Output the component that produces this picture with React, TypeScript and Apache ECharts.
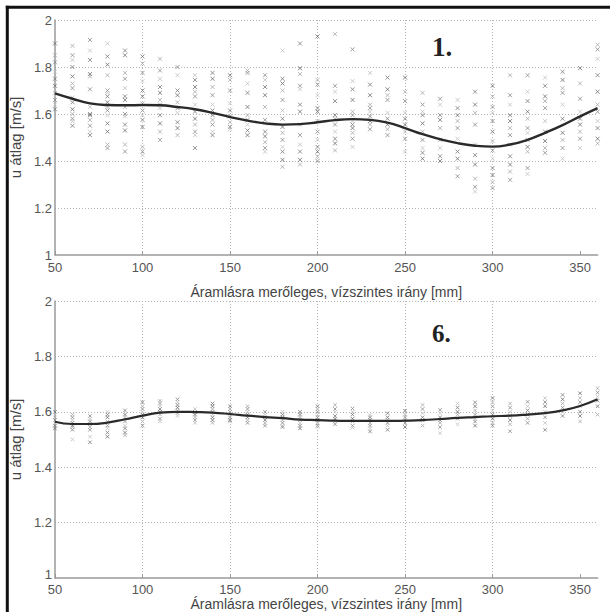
import React, { useEffect, useRef } from "react";
import * as echarts from "echarts";

const positions = [50, 60, 70, 80, 90, 100, 110, 120, 130, 140, 150, 160, 170, 180, 190, 200, 210, 220, 230, 240, 250, 260, 270, 280, 290, 300, 310, 320, 330, 340, 350, 360];
const xTicks = [50, 100, 150, 200, 250, 300, 350];
const xName = "Áramlásra merőleges, vízszintes irány [mm]";
const yName = "u átlag [m/s]";
const title1 = "1.";
const title2 = "6.";

const mean1 = [1.688, 1.665, 1.645, 1.638, 1.637, 1.638, 1.637, 1.630, 1.620, 1.605, 1.587, 1.572, 1.560, 1.555, 1.557, 1.565, 1.574, 1.578, 1.575, 1.563, 1.540, 1.514, 1.493, 1.476, 1.465, 1.461, 1.470, 1.490, 1.520, 1.553, 1.590, 1.625];
const mean6 = [1.564, 1.556, 1.556, 1.561, 1.573, 1.586, 1.597, 1.600, 1.599, 1.597, 1.592, 1.586, 1.581, 1.577, 1.572, 1.570, 1.568, 1.567, 1.567, 1.567, 1.568, 1.570, 1.574, 1.578, 1.581, 1.584, 1.586, 1.590, 1.595, 1.605, 1.621, 1.645];

const samples1: number[][] = [
  [1.90, 1.85, 1.82, 1.78, 1.75, 1.72, 1.69, 1.66, 1.64, 1.62],
  [1.89, 1.85, 1.83, 1.80, 1.76, 1.73, 1.71, 1.67, 1.65, 1.62, 1.60, 1.58, 1.57, 1.55],
  [1.915, 1.87, 1.83, 1.77, 1.76, 1.705, 1.63, 1.60, 1.595, 1.575, 1.55, 1.525, 1.51],
  [1.90, 1.845, 1.81, 1.765, 1.70, 1.69, 1.675, 1.65, 1.63, 1.615, 1.595, 1.56, 1.525, 1.47, 1.455],
  [1.87, 1.85, 1.775, 1.75, 1.71, 1.675, 1.66, 1.63, 1.60, 1.59, 1.555, 1.53, 1.47, 1.44],
  [1.845, 1.815, 1.775, 1.74, 1.70, 1.675, 1.645, 1.615, 1.595, 1.575, 1.545, 1.46, 1.44, 1.425],
  [1.835, 1.785, 1.75, 1.715, 1.69, 1.66, 1.64, 1.625, 1.595, 1.56, 1.525, 1.49],
  [1.80, 1.765, 1.70, 1.68, 1.65, 1.625, 1.605, 1.565, 1.54, 1.51],
  [1.765, 1.745, 1.715, 1.695, 1.675, 1.64, 1.61, 1.58, 1.555, 1.525, 1.51, 1.455],
  [1.775, 1.75, 1.715, 1.68, 1.64, 1.615, 1.595, 1.575, 1.555, 1.525, 1.51],
  [1.765, 1.745, 1.70, 1.645, 1.615, 1.59, 1.565, 1.545, 1.535],
  [1.785, 1.775, 1.73, 1.69, 1.63, 1.595, 1.575, 1.555, 1.53, 1.51],
  [1.765, 1.745, 1.715, 1.68, 1.63, 1.575, 1.56, 1.525, 1.505, 1.48, 1.455, 1.44],
  [1.87, 1.75, 1.73, 1.70, 1.66, 1.615, 1.58, 1.545, 1.52, 1.49, 1.46, 1.44, 1.405, 1.375],
  [1.90, 1.795, 1.77, 1.72, 1.705, 1.64, 1.61, 1.555, 1.51, 1.47, 1.44, 1.405, 1.385],
  [1.93, 1.745, 1.725, 1.68, 1.625, 1.61, 1.57, 1.525, 1.49, 1.46, 1.44, 1.42, 1.40],
  [1.94, 1.72, 1.695, 1.655, 1.595, 1.58, 1.555, 1.525, 1.495, 1.475, 1.445],
  [1.875, 1.74, 1.705, 1.66, 1.61, 1.595, 1.57, 1.555, 1.54, 1.52, 1.495, 1.46],
  [1.775, 1.725, 1.68, 1.64, 1.625, 1.61, 1.59, 1.57, 1.555, 1.535],
  [1.755, 1.705, 1.68, 1.66, 1.605, 1.58, 1.555, 1.535, 1.51],
  [1.755, 1.695, 1.655, 1.605, 1.58, 1.555, 1.525, 1.495, 1.44],
  [1.69, 1.64, 1.61, 1.595, 1.56, 1.525, 1.49, 1.455, 1.435, 1.41],
  [1.665, 1.64, 1.595, 1.575, 1.54, 1.49, 1.455, 1.42, 1.40],
  [1.66, 1.625, 1.595, 1.57, 1.54, 1.495, 1.44, 1.41, 1.37, 1.335],
  [1.695, 1.64, 1.605, 1.555, 1.47, 1.425, 1.385, 1.325, 1.29, 1.27],
  [1.72, 1.675, 1.63, 1.605, 1.57, 1.525, 1.485, 1.445, 1.41, 1.37, 1.34, 1.31, 1.285],
  [1.765, 1.68, 1.64, 1.595, 1.57, 1.54, 1.51, 1.47, 1.42, 1.385, 1.355, 1.32],
  [1.765, 1.695, 1.655, 1.61, 1.58, 1.54, 1.52, 1.49, 1.46, 1.44, 1.37, 1.345],
  [1.755, 1.72, 1.675, 1.655, 1.625, 1.57, 1.525, 1.485, 1.455, 1.435],
  [1.78, 1.745, 1.71, 1.69, 1.64, 1.58, 1.52, 1.49, 1.455, 1.41],
  [1.795, 1.73, 1.665, 1.61, 1.58, 1.555, 1.525, 1.495, 1.455],
  [1.895, 1.875, 1.835, 1.765, 1.695, 1.64, 1.61, 1.57, 1.54, 1.495, 1.475],
];

const samples6: number[][] = [
  [1.60, 1.58, 1.57, 1.56, 1.55, 1.54],
  [1.59, 1.58, 1.57, 1.56, 1.55, 1.545, 1.535, 1.50],
  [1.585, 1.575, 1.565, 1.555, 1.545, 1.535, 1.51, 1.49],
  [1.60, 1.59, 1.58, 1.565, 1.55, 1.54, 1.525, 1.51],
  [1.605, 1.59, 1.58, 1.565, 1.55, 1.54, 1.525, 1.515],
  [1.635, 1.62, 1.61, 1.60, 1.59, 1.58, 1.565, 1.55],
  [1.64, 1.63, 1.62, 1.61, 1.60, 1.59, 1.575, 1.565],
  [1.645, 1.635, 1.625, 1.615, 1.605, 1.595, 1.585],
  [1.61, 1.60, 1.59, 1.58, 1.57, 1.56],
  [1.63, 1.62, 1.61, 1.60, 1.59, 1.58, 1.57, 1.56],
  [1.62, 1.61, 1.60, 1.59, 1.58, 1.57, 1.565],
  [1.62, 1.61, 1.60, 1.59, 1.58, 1.57, 1.56],
  [1.60, 1.59, 1.58, 1.57, 1.56, 1.55],
  [1.60, 1.59, 1.58, 1.57, 1.56, 1.55, 1.545],
  [1.60, 1.59, 1.58, 1.57, 1.56, 1.55, 1.54],
  [1.62, 1.61, 1.60, 1.59, 1.58, 1.57, 1.56, 1.55, 1.545],
  [1.625, 1.61, 1.60, 1.585, 1.575, 1.565, 1.555],
  [1.612, 1.60, 1.59, 1.575, 1.565, 1.55, 1.543],
  [1.589, 1.58, 1.57, 1.56, 1.55, 1.54, 1.529],
  [1.595, 1.58, 1.57, 1.56, 1.55, 1.535],
  [1.604, 1.59, 1.58, 1.57, 1.56, 1.545],
  [1.625, 1.61, 1.595, 1.58, 1.57, 1.55],
  [1.607, 1.595, 1.58, 1.57, 1.56, 1.545, 1.523],
  [1.63, 1.615, 1.60, 1.59, 1.575, 1.555],
  [1.634, 1.62, 1.605, 1.59, 1.575, 1.565, 1.55],
  [1.65, 1.635, 1.62, 1.605, 1.59, 1.575, 1.56, 1.55],
  [1.63, 1.615, 1.60, 1.585, 1.57, 1.555, 1.53],
  [1.636, 1.62, 1.605, 1.59, 1.575, 1.56],
  [1.65, 1.635, 1.62, 1.60, 1.58, 1.56, 1.535],
  [1.661, 1.645, 1.63, 1.615, 1.60, 1.585],
  [1.667, 1.65, 1.635, 1.62, 1.60, 1.585, 1.565],
  [1.685, 1.67, 1.655, 1.64, 1.62, 1.59],
];

const GREYS = ["#6e6e6e", "#a8a8a8", "#8a8a8a", "#c0c0c0", "#7a7a7a"];
const FONT = "'Liberation Sans', Arial, sans-serif";
const LABEL_COLOR = "#555";
const AXIS_COLOR = "#9a9a9a";
const GRID_COLOR = "#b4b4b4";
const CROSS = "path://M0,0L10,10M10,0L0,10";

function scatterData(cols: number[][]) {
  const out: any[] = [];
  cols.forEach((vals, ci) => {
    vals.forEach((v, vi) => {
      out.push({
        value: [positions[ci], v],
        itemStyle: { borderColor: GREYS[(ci + vi) % GREYS.length] },
      });
    });
  });
  return out;
}

function makeX(gridIndex: number, labelMargin: number, nameGap: number) {
  return {
    type: "value",
    gridIndex,
    min: 50,
    max: 360,
    interval: 50,
    name: xName,
    nameLocation: "middle",
    nameGap,
    nameTextStyle: { color: "#444", fontSize: 14, fontFamily: FONT, lineHeight: 14 },
    axisLine: { show: true, onZero: false, lineStyle: { color: AXIS_COLOR, width: 1.5 } },
    axisTick: { show: true, inside: true, length: 4, customValues: xTicks, lineStyle: { color: AXIS_COLOR } },
    axisLabel: { color: LABEL_COLOR, fontSize: 13, fontFamily: FONT, margin: labelMargin, lineHeight: 11, customValues: xTicks },
    splitLine: { show: true, showMaxLine: false, showMinLine: false, lineStyle: { color: GRID_COLOR, type: [1, 2], width: 1 } },
  };
}

function makeY(gridIndex: number, nameGap: number, raiseMin: boolean) {
  return {
    type: "value",
    gridIndex,
    min: 1,
    max: 2,
    interval: 0.2,
    name: yName,
    nameLocation: "middle",
    nameGap,
    nameTextStyle: { color: "#444", fontSize: 15, fontFamily: FONT },
    axisLine: { show: true, onZero: false, lineStyle: { color: AXIS_COLOR, width: 1.5 } },
    axisTick: { show: false },
    axisLabel: {
      color: LABEL_COLOR,
      fontSize: 13,
      fontFamily: FONT,
      margin: 3,
      formatter: (v: number) => (raiseMin && v === 1 ? "{lo|1}" : String(Math.round(v * 10) / 10)),
      rich: { lo: { color: LABEL_COLOR, fontSize: 13, fontFamily: FONT, padding: [0, 0, 8, 0] } },
    },
    splitLine: { show: true, showMinLine: false, lineStyle: { color: GRID_COLOR, type: [1, 2], width: 1 } },
  };
}

export default function App() {
  const ref = useRef<HTMLDivElement>(null);
  useEffect(() => {
    if (!ref.current) return;
    const chart = echarts.init(ref.current, undefined, { renderer: "svg" });
    chart.setOption({
      animation: false,
      backgroundColor: "#ffffff",
      grid: [
        { left: 52, right: 12.4, top: 20, height: 235 },
        { left: 52, right: 12.4, top: 301, height: 277 },
      ],
      xAxis: [makeX(0, 7, 30), makeX(1, 6, 15)],
      yAxis: [makeY(0, 27, false), makeY(1, 25, true)],
      graphic: [
        { type: "line", shape: { x1: 7.3, y1: 5.8, x2: 7.3, y2: 612 }, style: { stroke: "#111", lineWidth: 3 } },
        { type: "line", shape: { x1: 5.8, y1: 7.3, x2: 610, y2: 7.3 }, style: { stroke: "#111", lineWidth: 3 } },
        { type: "text", left: 432, top: 33, style: { text: title1, font: "bold 27px 'Liberation Serif', 'Times New Roman', serif", fill: "#222" } },
        { type: "text", left: 432, top: 321, style: { text: title2, font: "bold 25px 'Liberation Serif', 'Times New Roman', serif", fill: "#222" } },
      ],
      series: [
        {
          type: "scatter",
          xAxisIndex: 0,
          yAxisIndex: 0,
          symbol: CROSS,
          symbolSize: 4,
          itemStyle: { color: "transparent", borderWidth: 1 },
          data: scatterData(samples1),
          z: 2,
        },
        {
          type: "line",
          xAxisIndex: 0,
          yAxisIndex: 0,
          smooth: 0.5,
          showSymbol: false,
          symbol: "none",
          lineStyle: { color: "#2a2a2a", width: 2.4 },
          data: positions.map((x, i) => [x, mean1[i]]),
          z: 3,
        },
        {
          type: "scatter",
          xAxisIndex: 1,
          yAxisIndex: 1,
          symbol: CROSS,
          symbolSize: 3.5,
          itemStyle: { color: "transparent", borderWidth: 1 },
          data: scatterData(samples6),
          z: 2,
        },
        {
          type: "line",
          xAxisIndex: 1,
          yAxisIndex: 1,
          smooth: 0.5,
          showSymbol: false,
          symbol: "none",
          lineStyle: { color: "#2a2a2a", width: 2.2 },
          data: positions.map((x, i) => [x, mean6[i]]),
          z: 3,
        },
      ],
    });
    return () => chart.dispose();
  }, []);
  return (
    <div
      ref={ref}
      style={{ position: "fixed", left: 0, top: 0, width: 610, height: 612, background: "#fff" }}
    />
  );
}
